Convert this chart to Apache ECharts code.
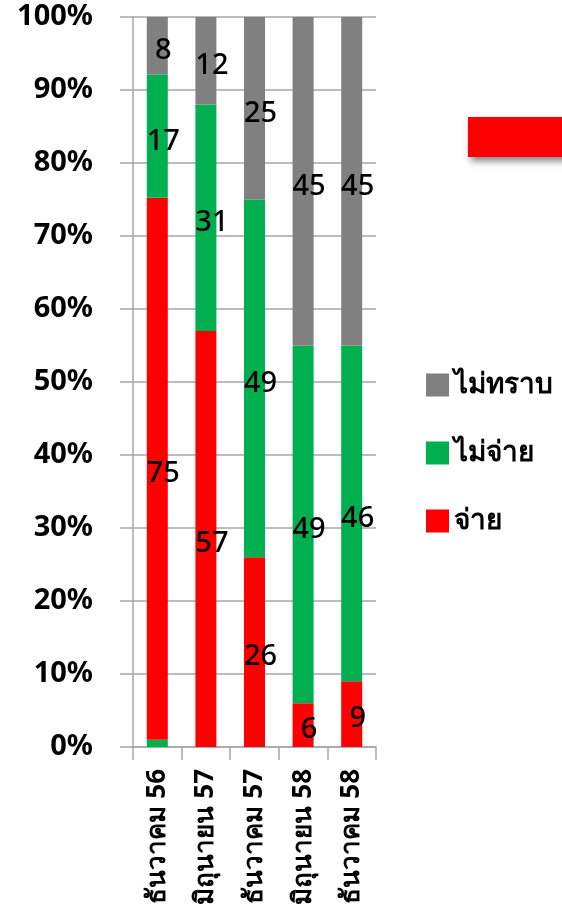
<!DOCTYPE html>
<html>
<head>
<meta charset="utf-8">
<title>chart</title>
<script src="https://cdn.jsdelivr.net/npm/echarts@6/dist/echarts.min.js"></script>
<style>
  html, body { margin: 0; padding: 0; background: #fff; }
  #chart { width: 562px; height: 912px; }
</style>
</head>
<body>
<div id="chart"></div>
<script>
// categories (Thai month + year)
var categories = ["ธันวาคม 56", "มิถุนายน 57", "ธันวาคม 57", "มิถุนายน 58", "ธันวาคม 58"];
// series values (as labelled on the bars)
var paid = [75, 57, 26, 6, 9];        // จ่าย
var notPaid = [17, 31, 49, 49, 46];   // ไม่จ่าย
var unknown = [8, 12, 25, 45, 45];    // ไม่ทราบ
// small unlabelled green sliver at the bottom of the first bar
var sliver = [1, 0, 0, 0, 0];
var yTicks = [0, 10, 20, 30, 40, 50, 60, 70, 80, 90, 100];

var FONT = "'Noto Sans', 'DejaVu Sans', sans-serif";
var RED = "#FF0000", GREEN = "#00B050", GREY = "#808080";

// 100% stacked: normalise each column by its total
var totals = categories.map(function (c, i) {
  return sliver[i] + paid[i] + notPaid[i] + unknown[i];
});
function pct(arr) {
  return arr.map(function (v, i) { return v / totals[i] * 100; });
}

function makeSeries(name, raw, color, showLabel) {
  return {
    name: name,
    type: "bar",
    stack: "all",
    barWidth: 21,
    data: pct(raw).map(function (v, i) { return { value: v, raw: raw[i] }; }),
    itemStyle: { color: color },
    label: {
      show: showLabel,
      position: "inside",
      offset: [6, 5],
      color: "#000",
      fontFamily: FONT,
      fontSize: 29,
      fontWeight: 500,
      formatter: function (p) { return p.data.raw; }
    },
    emphasis: { disabled: true }
  };
}

var chart = echarts.init(document.getElementById("chart"), null, { renderer: "canvas" });
chart.setOption({
  animation: false,
  grid: { left: 133, right: 186, top: 17, bottom: 165, containLabel: false },
  legend: {
    orient: "vertical",
    left: 421,
    top: 366,
    itemWidth: 23,
    itemHeight: 23,
    itemGap: 40,
    icon: "rect",
    data: ["ไม่ทราบ", "ไม่จ่าย", "จ่าย"],
    textStyle: { fontFamily: FONT, fontSize: 28, fontWeight: "bold", color: "#000", padding: [0, 0, 0, 0] }
  },
  graphic: [{
    type: "rect",
    shape: { x: 468, y: 117, width: 110, height: 40 },
    style: {
      fill: RED,
      shadowBlur: 7,
      shadowOffsetX: 3,
      shadowOffsetY: 4,
      shadowColor: "rgba(0,0,0,0.5)"
    }
  }],
  xAxis: {
    type: "category",
    data: categories,
    axisLine: { lineStyle: { color: "#a6a6a6", width: 1.5 } },
    axisTick: { show: true, length: 13, alignWithLabel: false, lineStyle: { color: "#a6a6a6", width: 1.5 } },
    axisLabel: {
      rotate: 90,
      margin: 22,
      interval: 0,
      color: "#000",
      fontFamily: FONT,
      fontSize: 26,
      fontWeight: "bold"
    }
  },
  yAxis: {
    type: "value",
    min: yTicks[0],
    max: yTicks[yTicks.length - 1],
    interval: 10,
    axisLine: { show: true, lineStyle: { color: "#a6a6a6", width: 1.5 } },
    axisTick: { show: true, inside: false, length: 13, lineStyle: { color: "#a6a6a6", width: 1.5 } },
    splitLine: { show: true, lineStyle: { color: "#a6a6a6", width: 1.5 } },
    axisLabel: {
      margin: 40,
      color: "#000",
      fontFamily: FONT,
      fontSize: 29,
      fontWeight: "bold",
      formatter: function (v) { return v + "%"; }
    }
  },
  series: [
    Object.assign(makeSeries("sliver", sliver, GREEN, false), { legendHoverLink: false }),
    makeSeries("จ่าย", paid, RED, true),
    makeSeries("ไม่จ่าย", notPaid, GREEN, true),
    makeSeries("ไม่ทราบ", unknown, GREY, true)
  ]
});
</script>
</body>
</html>
